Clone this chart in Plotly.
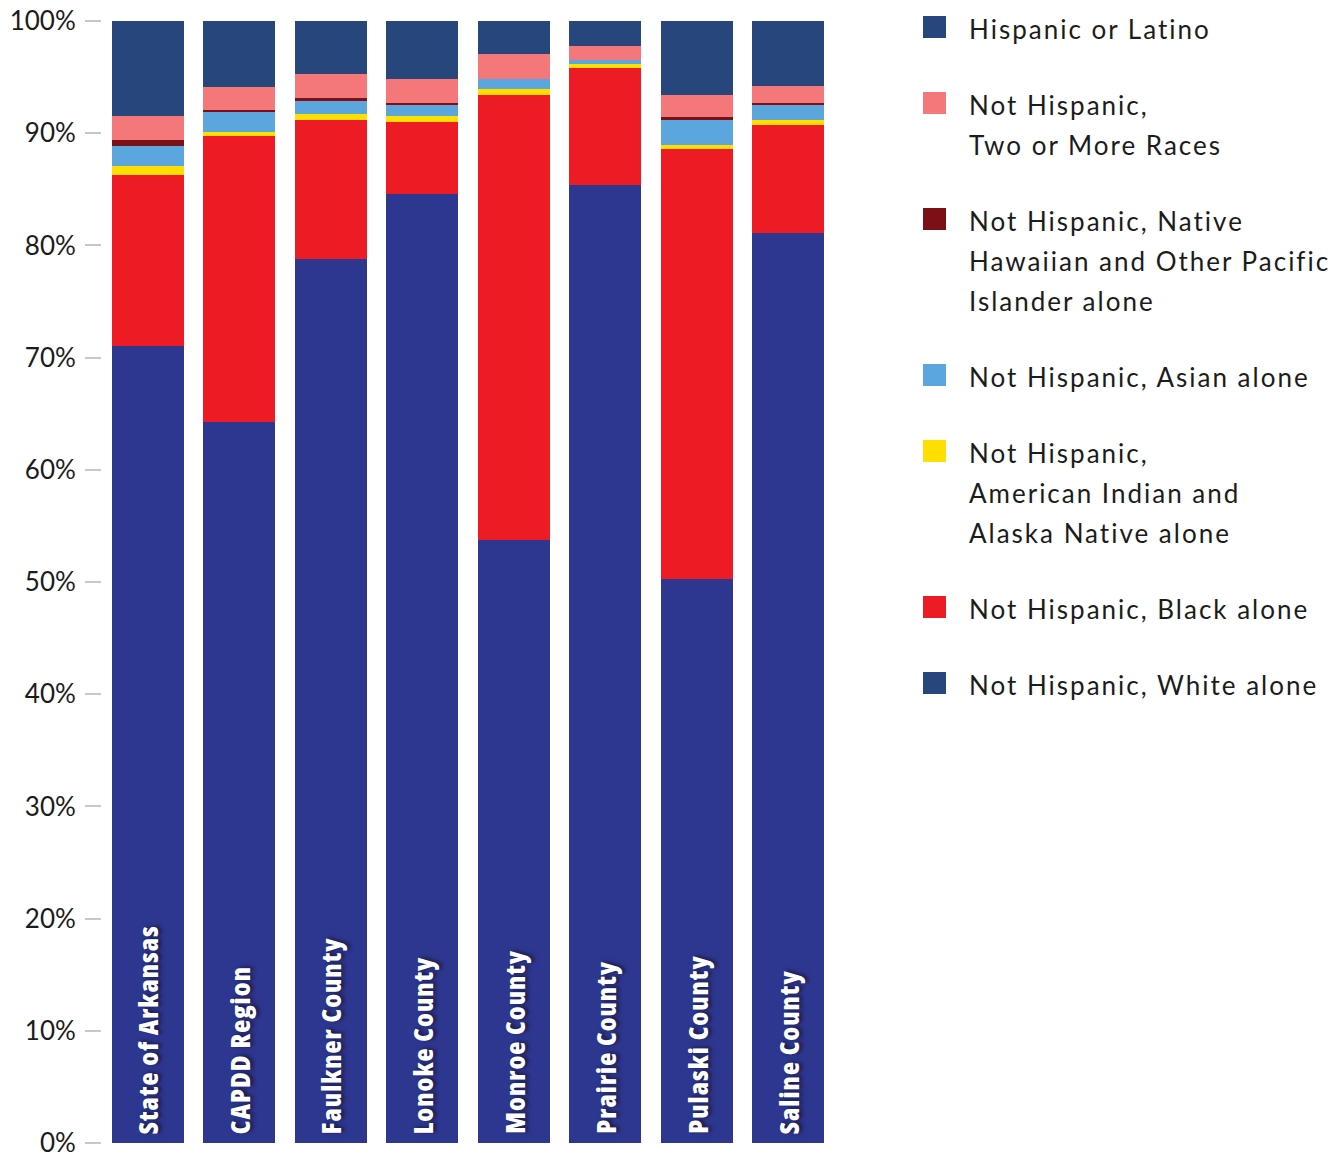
import plotly.graph_objects as go

# Population share by race / ethnicity (percent of total population)
areas = ["State of Arkansas", "CAPDD Region", "Faulkner County", "Lonoke County",
         "Monroe County", "Prairie County", "Pulaski County", "Saline County"]

white = [71.0, 64.3, 78.8, 84.6, 53.7, 85.4, 50.3, 81.1]
black = [15.3, 25.45, 12.4, 6.4, 39.7, 10.4, 38.3, 9.6]
aian = [0.8, 0.35, 0.5, 0.55, 0.55, 0.35, 0.35, 0.45]
asian = [1.8, 1.8, 1.15, 0.95, 0.9, 0.35, 2.25, 1.35]
nhpi = [0.45, 0.2, 0.3, 0.2, 0.0, 0.0, 0.25, 0.2]
two_more = [2.15, 2.0, 2.15, 2.1, 2.2, 1.25, 1.95, 1.5]
hispanic = [8.5, 5.9, 4.7, 5.2, 2.95, 2.25, 6.6, 5.8]

tick_vals = [0, 10, 20, 30, 40, 50, 60, 70, 80, 90, 100]
tick_text = [f"{v}%" for v in tick_vals]

# stacking order, bottom to top: (values, bar colour)
stack = [
    (white, "#2E3790"),
    (black, "#ED1C24"),
    (aian, "#FFDE00"),
    (asian, "#5BA7DD"),
    (nhpi, "#7B1016"),
    (two_more, "#F4777A"),
    (hispanic, "#27467C"),
]

# legend entries, top to bottom: (text lines, swatch colour)
legend_items = [
    (["Hispanic or Latino"], "#27467C"),
    (["Not Hispanic,", "Two or More Races"], "#F4777A"),
    (["Not Hispanic, Native", "Hawaiian and Other Pacific", "Islander alone"], "#7B1016"),
    (["Not Hispanic, Asian alone"], "#5BA7DD"),
    (["Not Hispanic,", "American Indian and", "Alaska Native alone"], "#FFDE00"),
    (["Not Hispanic, Black alone"], "#ED1C24"),
    (["Not Hispanic, White alone"], "#27467C"),
]

W, H = 1340, 1157
ML, MR, MT, MB = 102, 506, 21, 14
PW, PH = W - ML - MR, H - MT - MB


def px(x):
    return (x - ML) / PW


def py(y):
    return (H - MB - y) / PH


fig = go.Figure()
for vals, col in stack:
    fig.add_trace(go.Bar(
        x=areas, y=vals, marker=dict(color=col, line=dict(width=0)),
        showlegend=False, hoverinfo="skip",
    ))

# area names written up the bottom of each bar
for name in areas:
    fig.add_annotation(
        x=name, y=0, xref="x", yref="y",
        text=f'<span style="font-stretch:75%;letter-spacing:1px">{name}</span>',
        showarrow=False,
        textangle=-90, yanchor="bottom", xanchor="center", yshift=7,
        font=dict(family="Open Sans, Liberation Sans Narrow, sans-serif",
                  size=27, color="white", weight=800,
                  shadow="1px 3px 4px rgba(0,0,0,0.55)"),
    )

# legend drawn to the right of the plot
legend_font = dict(family="Lato, Noto Sans, sans-serif", size=26, color="#1c1c1c")
line_y = 29
for lines, col in legend_items:
    fig.add_shape(type="rect", xref="paper", yref="paper",
                  x0=px(923), x1=px(946), y0=py(line_y - 13), y1=py(line_y + 9),
                  fillcolor=col, line=dict(width=0), layer="above")
    for i, ln in enumerate(lines):
        fig.add_annotation(
            x=px(967), y=py(line_y + 40 * i), xref="paper", yref="paper",
            text=f'<span style="letter-spacing:2px">{ln}</span>',
            showarrow=False, xanchor="left", yanchor="middle", font=legend_font,
        )
    line_y += 40 * (len(lines) - 1) + 76

fig.update_layout(
    width=W, height=H,
    margin=dict(l=ML, r=MR, t=MT, b=MB, pad=0, autoexpand=False),
    barmode="stack", bargap=0.2125,
    plot_bgcolor="white", paper_bgcolor="white",
    xaxis=dict(showticklabels=False, showgrid=False, zeroline=False, automargin=False,
               showline=False, ticks="", range=[-0.5, 7.5]),
    yaxis=dict(range=[0, 100], tickvals=tick_vals, ticktext=tick_text, automargin=False,
               showgrid=False, zeroline=False, showline=False,
               ticks="outside", ticklen=16, tickwidth=2, tickcolor="#c8c8c8",
               ticklabelstandoff=4, ticklabeloverflow="allow",
               tickfont=dict(family="Lato, Noto Sans, sans-serif", size=26, color="#1c1c1c")),
)

fig.write_html("out.html")
